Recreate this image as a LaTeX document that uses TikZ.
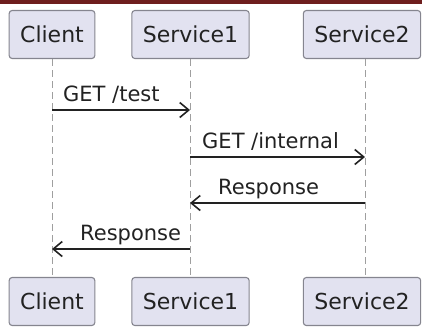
\documentclass[tikz,border=0pt]{standalone}
\usepackage{fontspec}
\setmainfont{DejaVu Sans}
\usepackage{xcolor}
\usetikzlibrary{arrows.meta,positioning,calc}

\definecolor{partfill}{HTML}{E2E2F0}
\definecolor{partdraw}{HTML}{85858F}
\definecolor{lineclr}{HTML}{222222}
\definecolor{topbar}{HTML}{6E1E1E}

\begin{document}
\begin{tikzpicture}[x=1pt,y=-1pt,>={Straight Barb[length=9pt,width=15pt,line width=1.6pt]}]
\tikzstyle{part}=[draw=partdraw,fill=partfill,rounded corners=3pt,line width=1.1pt,
  minimum height=48pt,inner xsep=11pt,font=\fontsize{22}{25}\selectfont,text=lineclr]
\tikzstyle{life}=[draw=gray!75,dash pattern=on 7pt off 4pt,line width=0.9pt]
\tikzstyle{msg}=[->,draw=lineclr,line width=1.4pt]
\tikzstyle{lbl}=[anchor=base west,inner sep=0pt,font=\fontsize{21}{24}\selectfont,text=lineclr]
\useasboundingbox (0,0) rectangle (422,327);
\fill[topbar] (0,0) rectangle (422,4);
% participants
\node[part] (clientTop) at (52,34.5) {Client};
\node[part] (svcOneTop) at (190.5,34.5) {Service1};
\node[part] (svcTwoTop) at (362,34.5) {Service2};
\node[part] (clientBot) at (52,301.5) {Client};
\node[part] (svcOneBot) at (190.5,301.5) {Service1};
\node[part] (svcTwoBot) at (362,301.5) {Service2};
% lifelines
\draw[life] (clientTop.south) -- (clientBot.north);
\draw[life] ($(svcOneTop.south)+(-0.5,0)$) -- ($(svcOneBot.north)+(-0.5,0)$);
\draw[life] ($(svcTwoTop.south)+(3,0)$) -- ($(svcTwoBot.north)+(3,0)$);
% message ends
\coordinate (m1a) at (52,110);  \coordinate (m1b) at (190,110);
\coordinate (m2a) at (190,157); \coordinate (m2b) at (365,157);
\coordinate (m3a) at (365,203); \coordinate (m3b) at (190,203);
\coordinate (m4a) at (190,249); \coordinate (m4b) at (52,249);
% messages
\draw[msg] (m1a) -- (m1b);
\node[lbl] (t1) at ($(m1a)+(11,-9)$) {GET /test};
\draw[msg] (m2a) -- (m2b);
\node[lbl] (t2) at ($(m2a)+(12,-9)$) {GET /internal};
\draw[msg] (m3a) -- (m3b);
\node[lbl] (t3) at ($(m3b)+(28,-9)$) {Response};
\draw[msg] (m4a) -- (m4b);
\node[lbl] (t4) at ($(m4b)+(28,-9)$) {Response};
\end{tikzpicture}
\end{document}
